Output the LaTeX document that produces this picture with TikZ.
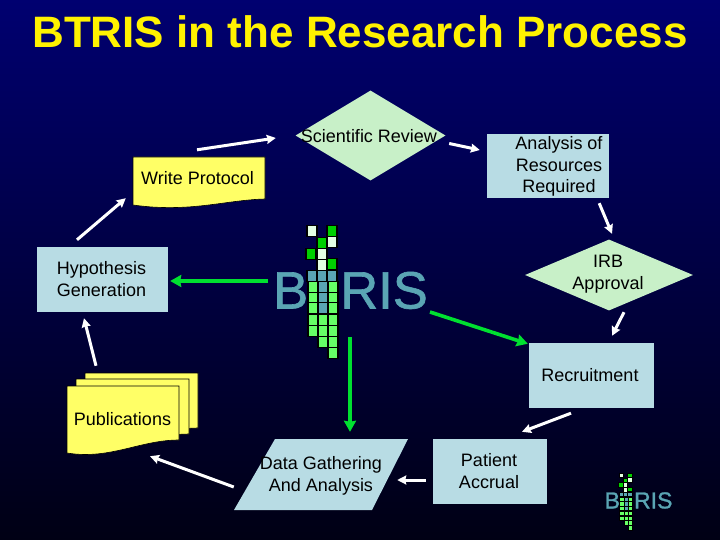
\documentclass[tikz,border=0pt]{standalone}
\usepackage{fontspec}
\setmainfont{Liberation Sans}
\newfontfamily\logofont[FakeBold=1.2]{Liberation Sans}
\usetikzlibrary{arrows.meta,shapes.geometric,calc}
\definecolor{bgtop}{HTML}{000070}
\definecolor{bgbot}{HTML}{000014}
\definecolor{boxblue}{HTML}{B8DCE4}
\definecolor{diagreen}{HTML}{C8F0C8}
\definecolor{docyellow}{HTML}{FFFF66}
\definecolor{logoteal}{HTML}{5AA5B4}
\definecolor{pale}{HTML}{E4FFE4}
\definecolor{midgreen}{HTML}{00D000}
\definecolor{lightgreen}{HTML}{66FF66}
\definecolor{arrowgreen}{HTML}{00E030}
\tikzset{
  lbl/.style={font=\fontsize{18}{21.7}\selectfont,text=black,align=center,inner sep=0pt},
  bluebox/.style={fill=boxblue,inner sep=0pt,lbl},
  docfill/.style={fill=docyellow,draw=black,line width=.6pt},
  wf/.style={-{Stealth[length=9pt,width=9pt,inset=1pt]},white,line width=3pt},
  gf/.style={-{Stealth[length=11pt,width=12pt,inset=1pt]},arrowgreen,line width=3.6pt},
}
\newcommand{\lgsq}[3]{\fill[#3,draw=black,line width=\lgs*1.1pt] (#1-5,#2-5.2) rectangle (#1+5,#2+5.2);}
\newcommand{\btrislogo}[3]{% position, scale factor, font size
  \begin{scope}[shift={(#1)},scale=#2]
    \begin{scope}
      \clip (-60,-30) rectangle (-14.5,30) (19,-30) rectangle (120,30);
      \node[font=\logofont\fontsize{#3}{#3}\selectfont,text=logoteal,inner sep=0pt,anchor=base west] at (-50,19.5) {BTRIS};
    \end{scope}
    \foreach \x/\y/\c in {-11/-58/pale,9/-58/midgreen,-1/-46/midgreen,9/-47/pale,-12/-35/midgreen,-1/-35/pale,-1/-24/pale,9/-25/midgreen,
      -11/-13/logoteal,-1/-13/logoteal,9/-13/logoteal,
      -10/-2/lightgreen,0/-2/logoteal,10/-2/lightgreen,
      -10/9/lightgreen,0/9/logoteal,10/9/lightgreen,
      -10/19/lightgreen,0/19/logoteal,10/19/lightgreen,
      -10/31/lightgreen,0/31/lightgreen,10/31/lightgreen,
      -10/42/lightgreen,0/42/lightgreen,10/42/lightgreen,
      0/53/lightgreen,10/53/lightgreen,10/64/lightgreen}
      {\lgsq{\x}{\y}{\c}}
  \end{scope}}
\begin{document}
\begin{tikzpicture}[x=1pt,y=-1pt]
\useasboundingbox (0,0) rectangle (720,540);
\shade[top color=bgtop,bottom color=bgbot] (0,0) rectangle (720,540);
\node[font=\bfseries\fontsize{44}{44}\selectfont,text=yellow,inner sep=0pt] (title) at (360,32) {BTRIS in the Research Process};

% Scientific Review
\node[diamond,aspect=1.66,fill=diagreen,minimum width=150pt,minimum height=90pt,inner sep=0pt] (sci) at (370.5,135.5) {};
\node[lbl] (scit) at (369,136) {Scientific Review};
% Analysis
\node[fill=boxblue,minimum width=122pt,minimum height=64pt,inner sep=0pt] (ana) at (548,166) {};
\node[lbl] (anat) at (559,166.5) {Analysis of\\Resources\\Required};
% Write Protocol
\path[docfill] (133,157) -- (265,157) -- (265,199) .. controls (225,200) and (190,213) .. (133,205) -- cycle;
\node[lbl,minimum width=132pt,minimum height=46pt] (wp) at (197.5,178) {Write Protocol};
% Hypothesis
\node[bluebox,minimum width=131pt,minimum height=65pt] (hyp) at (102.5,279.5) {};
\node[lbl] (hypt) at (101.5,279) {Hypothesis\\Generation};
% IRB
\node[diamond,aspect=2.37,fill=diagreen,minimum width=168pt,minimum height=71pt,inner sep=0pt] (irbd) at (609,275) {};
\node[lbl] (irb) at (608,274.5) {IRB\\Approval};
% Recruitment
\node[bluebox,minimum width=125pt,minimum height=65pt] (rec) at (591.5,375.5) {};
\node[lbl] (rect) at (590,375.5) {Recruitment};
% Publications
\path[docfill] (85,373) -- (198,373) -- (198,428) .. controls (170,428) and (130,440) .. (85,438) -- cycle;
\path[docfill] (76,379) -- (189,379) -- (189,434) .. controls (160,434) and (120,446) .. (76,444) -- cycle;
\path[docfill] (67,386) -- (179,386) -- (179,440) .. controls (140,440) and (110,460) .. (67,453) -- cycle;
\node[lbl,minimum width=112pt,minimum height=67pt] (pub) at (122.5,419.5) {Publications};
% Data
\path[fill=boxblue] (275,439) -- (408,439) -- (372,510) -- (234,510) -- cycle;
\node[lbl,minimum width=120pt,minimum height=71pt] (data) at (321,475.5) {Data Gathering\\And Analysis};
% Patient
\node[fill=boxblue,minimum width=114pt,minimum height=65pt,inner sep=0pt] (pat) at (490,471.5) {};
\node[lbl] (patt) at (489,471) {Patient\\Accrual};

% logos
\def\lgs{1}
\btrislogo{323,289}{1}{52.5}
\def\lgs{.42}
\btrislogo{626,500}{.43}{23}
\coordinate (logo) at (323,289);

% white arrows
\draw[wf] ([shift={(-25.5,-7)}]hyp.north) -- ([shift={(-5.5,-3)}]wp.south west);
\draw[wf] ([shift={(-.5,-5)}]wp.north) -- ([shift={(-19.5,2.5)}]sci.west);
\draw[wf] ([shift={(3.5,8)}]sci.east) -- ([shift={(-7,-16)}]ana.west);
\draw[wf] ([shift={(-10,5)}]ana.south east) -- ([shift={(3,-5.5)}]irbd.north);
\draw[wf] ([shift={(15,1.5)}]irbd.south) -- ([shift={(20.5,-7)}]rec.north);
\draw[wf] ([shift={(-20.5,5)}]rec.south) -- ([shift={(32,-7)}]pat.north);
\draw[wf] ([shift={(-7,8.5)}]pat.west) -- ([shift={(15,4.5)}]data.east);
\draw[wf] ([shift={(-26,11.5)}]data.west) -- ([shift={(27.5,3)}]pub.south);
\draw[wf] ([shift={(-26.5,-20)}]pub.north) -- ([shift={(-18.5,6)}]hyp.south);
% green arrows
\draw[gf] ([shift={(-55,-8)}]logo) -- ([shift={(2,1.5)}]hyp.east);
\draw[gf] ([shift={(107,23)}]logo) -- ([shift={(-1,1)}]rec.north west);
\draw[gf] ([shift={(27,48)}]logo) -- ([shift={(29,-8)}]data.north);
\end{tikzpicture}
\end{document}
